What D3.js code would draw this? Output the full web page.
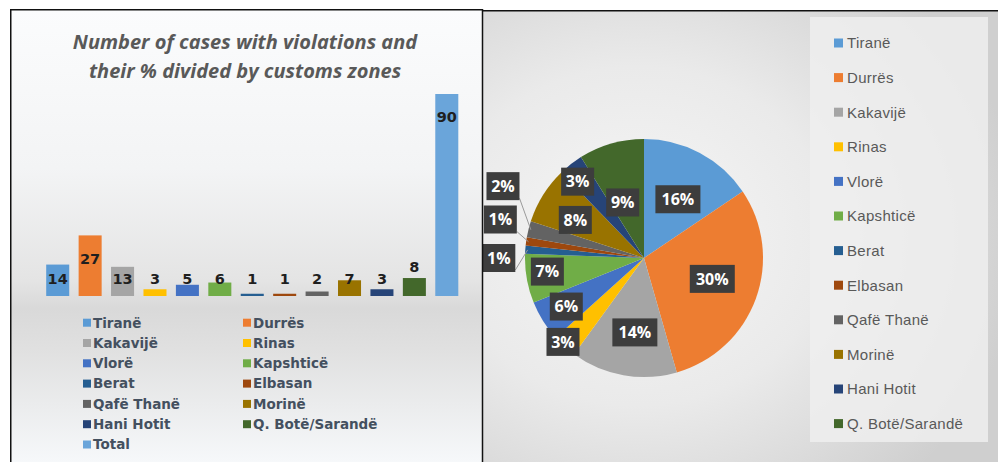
<!DOCTYPE html>
<html><head><meta charset="utf-8">
<script src="https://cdn.jsdelivr.net/npm/d3@7"></script>
<style>body{margin:0;background:#fff}svg{display:block}</style>
</head><body>
<svg id="c" width="998" height="462"></svg>
<script>
// ---------- data ----------
const zones = ["Tiranë","Durrës","Kakavijë","Rinas","Vlorë","Kapshticë","Berat","Elbasan","Qafë Thanë","Morinë","Hani Hotit","Q. Botë/Sarandë"];
const cases = [14,27,13,3,5,6,1,1,2,7,3,8];
const totalLabel = "Total";
const totalValue = 90;
const barCategories = zones.concat([totalLabel]);
const barValues = cases.concat([totalValue]);
const zoneColors = ["#5B9BD5","#ED7D31","#A5A5A5","#FFC000","#4472C4","#70AD47","#255E91","#9E480E","#636363","#997300","#264478","#43682B"];
const totalColor = "#6AA5DA";
const barColors = zoneColors.concat([totalColor]);
const barLabelPlacement = ["in","in","in","in","in","in","in","in","in","in","in","out","in"];
const titleLines = ["Number of cases with violations and","their % divided by customs zones"];
// pie label layout: [radius factor, angle shift in degrees]
const pieLabelLayout = [[0.57,2],[0.6,-3],[0.63,-3],[0.98,2],[0.77,0],[0.82,2],[1.22,-4],[1.25,7],[1.33,13],[0.66,-3],[0.85,-3],[0.5,-5]];
const pieLeader = [false,false,false,false,false,false,true,true,true,false,false,false];

const svg = d3.select("#c");
const defs = svg.append("defs");

// ---------- left panel ----------
const lg = defs.append("linearGradient").attr("id","lbg").attr("x1",0).attr("y1",0).attr("x2",0).attr("y2",1);
[[0,"#fbfcfd"],[0.35,"#f3f4f5"],[0.6,"#e4e4e4"],[0.66,"#d9d9d9"],[0.75,"#e0e0e0"],[1,"#f6f8fa"]].forEach(s=>lg.append("stop").attr("offset",s[0]).attr("stop-color",s[1]));
svg.append("rect").attr("x",10).attr("y",10).attr("width",472).attr("height",452).attr("fill","url(#lbg)");

// title
svg.append("g").selectAll("text").data(titleLines).join("text")
  .attr("x",245).attr("y",(d,i)=>49+i*29).attr("text-anchor","middle")
  .attr("font-family","'Open Sans',sans-serif").attr("font-weight",700).attr("font-style","italic")
  .attr("font-size",20).attr("fill","#595959").text(d=>d);

const x = d3.scaleBand().domain(barCategories).range([41.5,463]).paddingInner(0.29).paddingOuter(0.145);
const y = d3.scaleLinear().domain([0,90]).range([296,94]);

const bars = svg.append("g");
bars.selectAll("rect").data(barCategories).join("rect")
  .attr("x",d=>x(d)).attr("width",x.bandwidth())
  .attr("y",(d,i)=>y(barValues[i])).attr("height",(d,i)=>y(0)-y(barValues[i]))
  .attr("fill",(d,i)=>barColors[i]);

bars.selectAll("text").data(barCategories).join("text")
  .attr("x",d=>x(d)+x.bandwidth()/2)
  .attr("y",(d,i)=>{
    const top = y(barValues[i]);
    return barLabelPlacement[i]==="out" ? top-11 : Math.min(top+23, y(0)-17);
  })
  .attr("dy","0.36em").attr("text-anchor","middle")
  .attr("font-family","'DejaVu Sans',sans-serif").attr("font-weight",700).attr("font-size",14.5)
  .attr("fill","#1f1f1f").text((d,i)=>barValues[i]);

// left legend
const leg = svg.append("g");
const legItems = leg.selectAll("g").data(barCategories).join("g")
  .attr("transform",(d,i)=>`translate(83,${322.7+Math.floor(i/2)*20.3})`)
  .attr("transform",(d,i)=>`translate(${i%2===0?83:243},${322.7+Math.floor(i/2)*20.3})`);
legItems.append("rect").attr("x",0).attr("y",-4).attr("width",8).attr("height",8).attr("fill",(d,i)=>barColors[i]);
legItems.append("text").attr("x",10).attr("dy","0.36em")
  .attr("font-family","'DejaVu Sans',sans-serif").attr("font-weight",700).attr("font-size",13.5)
  .attr("fill","#44505f").text(d=>d);

// ---------- right panel ----------
const rg = defs.append("radialGradient").attr("id","rbg").attr("cx",0.3).attr("cy",0.5).attr("r",0.75);
[[0,"#f6f6f6"],[0.5,"#eaeaea"],[1,"#cfcfcf"]].forEach(s=>rg.append("stop").attr("offset",s[0]).attr("stop-color",s[1]));
svg.append("rect").attr("x",483).attr("y",10).attr("width",515).attr("height",452).attr("fill","url(#rbg)");

// legend box
svg.append("rect").attr("x",810).attr("y",17).attr("width",178).attr("height",425).attr("fill","#efefef").attr("opacity",0.85);

const cx = 644, cy = 258, R = 119;
const pie = d3.pie().sort(null).value(d=>d);
const arcs = pie(cases);
const arc = d3.arc().innerRadius(0).outerRadius(R);
const pg = svg.append("g").attr("transform",`translate(${cx},${cy})`);
pg.selectAll("path").data(arcs).join("path").attr("d",arc).attr("fill",(d,i)=>zoneColors[i]);

const sum = d3.sum(cases);
const boxH = 28;
const labelPos = arcs.map((a,i)=>{
  const ang = (a.startAngle+a.endAngle)/2 + pieLabelLayout[i][1]*Math.PI/180;
  const r = pieLabelLayout[i][0]*R;
  return [Math.sin(ang)*r, -Math.cos(ang)*r];
});
const labelText = cases.map(v=>Math.round(v/sum*100)+"%");

// leader lines
pg.selectAll("line.leader").data(arcs.filter((a,i)=>pieLeader[i])).join("line")
  .attr("class","leader")
  .each(function(a){
    const i = arcs.indexOf(a);
    const w = labelText[i].length>2?45:33;
    const mid = (a.startAngle+a.endAngle)/2;
    d3.select(this).attr("x1",labelPos[i][0]+w/2).attr("y1",labelPos[i][1]+boxH/2-2)
      .attr("x2",Math.sin(mid)*R*0.98).attr("y2",-Math.cos(mid)*R*0.98);
  })
  .attr("stroke","#9a9a9a").attr("stroke-width",1);

const lbl = pg.selectAll("g.lbl").data(arcs).join("g").attr("class","lbl")
  .attr("transform",(d,i)=>`translate(${labelPos[i][0]},${labelPos[i][1]})`);
lbl.append("rect")
  .attr("x",(d,i)=>-(labelText[i].length>2?45:33)/2).attr("y",-boxH/2)
  .attr("width",(d,i)=>labelText[i].length>2?45:33).attr("height",boxH)
  .attr("fill","#3d3d3d");
lbl.append("text").attr("text-anchor","middle").attr("dy","0.36em")
  .attr("font-family","'Open Sans',sans-serif").attr("font-weight",700).attr("font-size",16)
  .attr("fill","#ffffff").text((d,i)=>labelText[i]);

// right legend
const rl = svg.append("g").selectAll("g").data(zones).join("g")
  .attr("transform",(d,i)=>`translate(834,${43+i*34.6})`);
rl.append("rect").attr("x",0).attr("y",-4.5).attr("width",9).attr("height",9).attr("fill",(d,i)=>zoneColors[i]);
rl.append("text").attr("x",13).attr("dy","0.36em")
  .attr("font-family","'Liberation Sans',Arial,sans-serif").attr("font-size",15).attr("letter-spacing",0.3)
  .attr("fill","#595959").text(d=>d);

// ---------- borders ----------
const bc = "#111";
svg.append("path").attr("d","M10.75,462 V9.75 H482.5 V462").attr("fill","none").attr("stroke",bc).attr("stroke-width",1.5);
svg.append("path").attr("d","M482.5,10.75 H998").attr("fill","none").attr("stroke",bc).attr("stroke-width",1.5);
</script>
</body></html>
